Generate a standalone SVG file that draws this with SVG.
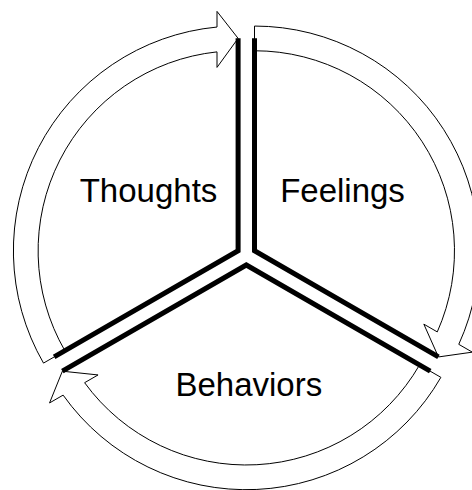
<svg xmlns="http://www.w3.org/2000/svg" width="472" height="490" viewBox="0 0 472 490">
<style>
.arrow{fill:#fff;stroke:#000;stroke-width:1;stroke-linejoin:miter}
.edge{fill:none;stroke:#000;stroke-width:5;stroke-linejoin:miter;stroke-linecap:butt}
.lbl{font-family:"Liberation Sans",Arial,sans-serif;font-size:33px;fill:#000;text-anchor:middle}
</style>
<rect width="472" height="490" fill="#fff"/>
<g id="connectors">
<path id="arrow-thoughts" class="arrow" d="M43.51,363.1 A224.7,224.7 0 0 1 217,27.04 L217,11.4 L238.1,38.35 L217,67.4 L217,51.87 A200,200 0 0 0 64.9,350.75 Z"/>
<path id="arrow-feelings" class="arrow" d="M254.5,26.05 A224.7,224.7 0 0 1 458.78,344.33 L472.33,352.15 L438.44,356.95 L423.83,324.15 L437.28,331.92 A200,200 0 0 0 254.5,50.75 Z"/>
<path id="arrow-behaviors" class="arrow" d="M440.89,377.35 A224.7,224.7 0 0 1 63.11,395.12 L49.56,402.94 L62.36,371.2 L98.06,374.94 L84.61,382.7 A200,200 0 0 0 419.5,365 Z"/>
</g>
<g id="thoughts">
<polyline class="edge" points="238.1,38.35 238.1,250.75 54.16,356.95"/>
<text class="lbl" x="148.5" y="201.5">Thoughts</text>
</g>
<g id="feelings">
<polyline class="edge" points="254.5,38.35 254.5,250.75 438.44,356.95"/>
<text class="lbl" x="342.5" y="201.5">Feelings</text>
</g>
<g id="behaviors">
<polyline class="edge" points="62.36,371.2 246.3,265 430.24,371.2"/>
<text class="lbl" x="248.8" y="395.5">Behaviors</text>
</g>
</svg>
